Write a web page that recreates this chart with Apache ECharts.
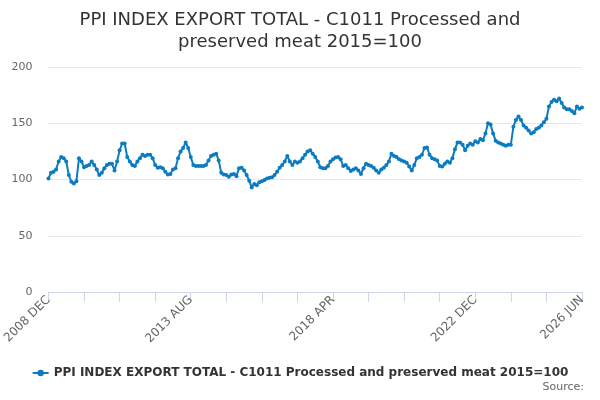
<html>
<head>
    <meta http-equiv="Content-Type" content="text/html; charset=utf-8" />
    <title>PPI INDEX EXPORT TOTAL - C1011</title>
    <script src="https://cdn.jsdelivr.net/npm/echarts@6/dist/echarts.min.js"></script>
    <style>
        html, body { margin: 0; padding: 0; background: #fff; }
    </style>
</head>
<body>
    <div id="main" style="width:600px;height:400px"></div>

    <script type="text/javascript">
        var seriesName = 'PPI INDEX EXPORT TOTAL - C1011 Processed and preserved meat 2015=100';
        var monthNames = ['JAN', 'FEB', 'MAR', 'APR', 'MAY', 'JUN', 'JUL', 'AUG', 'SEP', 'OCT', 'NOV', 'DEC'];
        var firstYear = 2008, firstMonth = 11, monthCount = 211;   // 2008 DEC .. 2026 JUN

        // values, month by month
        var values2008to2011 = [101, 106, 107, 109, 116, 120, 119, 116, 104, 98, 96.5, 98.5,
            119, 116, 111, 112, 113, 116, 113, 109, 104, 106, 110, 113,
            114, 114, 108, 116, 126, 132, 132, 120, 116, 113, 112, 116,
            119, 122, 121, 122, 122, 119, 113, 110.5, 111, 110, 107, 104.5];
        var values2012to2015 = [105, 109, 110, 119, 125, 128, 133, 128, 120, 113, 112, 112,
            112, 112, 113, 117, 121, 122, 123, 117, 106, 104.5, 104, 102.5,
            104.5, 105, 103, 110, 110.5, 108, 104, 99, 93, 96, 95, 97.5,
            98.5, 99.5, 101, 101.5, 102, 104, 107, 110.5, 113, 116, 121, 116];
        var values2016to2019 = [113, 116, 115, 116, 119, 122, 125, 126, 123, 120, 116, 111,
            110, 110, 112, 116, 118, 119.5, 120, 118, 112, 113, 110, 107.5,
            109, 110, 108, 105, 110, 114, 113, 112, 110.5, 108, 106, 109,
            110.5, 113, 116, 123, 121, 120, 118, 117, 116, 115, 111.5, 108];
        var values2020to2023 = [113, 119, 120, 122, 128, 128.5, 122, 119, 118, 117, 112, 111.5,
            114, 116, 115, 119, 127, 133, 133, 131, 126, 130, 132, 131,
            134, 133, 136, 135, 141, 150, 149, 141, 134.5, 133, 132, 131,
            130, 131, 131, 147, 153, 156, 153, 148, 146, 143.5, 141, 142];
        var values2024to2026 = [145, 146, 148, 151, 154, 165, 169, 171, 169.5, 172, 168, 164,
            162.5, 162.5, 161, 159, 165, 163, 164];

        var yTicks = [0, 50, 100, 150, 200];

        var values = values2008to2011.concat(values2012to2015, values2016to2019, values2020to2023, values2024to2026);

        var months = [];
        for (var i = 0; i < monthCount; i++) {
            var m = firstMonth + i;
            months.push((firstYear + Math.floor(m / 12)) + ' ' + monthNames[m % 12]);
        }

        var option = {
            animation: false,
            title: [{
                text: 'PPI INDEX EXPORT TOTAL - C1011 Processed and\npreserved meat 2015=100',
                left: 'center',
                top: 4,
                textStyle: {
                    fontFamily: 'DejaVu Sans',
                    fontSize: 18,
                    fontWeight: 'normal',
                    color: '#333333',
                    lineHeight: 22
                }
            }, {
                text: 'Source:',
                right: 11,
                bottom: 2,
                textStyle: {
                    fontFamily: 'DejaVu Sans',
                    fontSize: 11,
                    fontWeight: 'normal',
                    color: '#666666'
                }
            }],
            legend: {
                bottom: 16,
                left: 'center',
                itemWidth: 16,
                itemHeight: 8,
                itemGap: 4,
                textStyle: {
                    fontFamily: 'DejaVu Sans',
                    fontSize: 12,
                    fontWeight: 'bold',
                    color: '#333333'
                },
                data: [seriesName]
            },
            grid: {
                left: 47,
                right: 18,
                top: 67,
                bottom: 108,
                containLabel: false
            },
            xAxis: {
                type: 'category',
                boundaryGap: false,
                data: months,
                axisLine: {
                    lineStyle: { color: '#ccd6eb', width: 1 }
                },
                axisTick: {
                    length: 10,
                    interval: function (index) { return index % 14 === 0; },
                    lineStyle: { color: '#ccd6eb' }
                },
                axisLabel: {
                    rotate: 45,
                    margin: 6,
                    fontFamily: 'DejaVu Sans',
                    fontSize: 12,
                    color: '#666666',
                    interval: function (index) { return index % 56 === 0 || index === monthCount - 1; }
                },
                splitLine: { show: false }
            },
            yAxis: {
                type: 'value',
                min: yTicks[0],
                max: yTicks[yTicks.length - 1],
                interval: 50,
                axisLine: { show: false },
                axisTick: { show: false },
                axisLabel: {
                    margin: 16,
                    fontFamily: 'DejaVu Sans',
                    fontSize: 11,
                    color: '#666666'
                },
                splitLine: {
                    lineStyle: { color: '#e6e6e6', width: 1 }
                }
            },
            series: [{
                name: seriesName,
                type: 'line',
                data: values,
                symbol: 'circle',
                symbolSize: 4,
                showAllSymbol: true,
                itemStyle: { color: '#0c7bc0' },
                lineStyle: { color: '#0c7bc0', width: 2 }
            }]
        };

        var myChart = echarts.init(document.getElementById('main'));
        myChart.setOption(option);
    </script>
</body>
</html>
